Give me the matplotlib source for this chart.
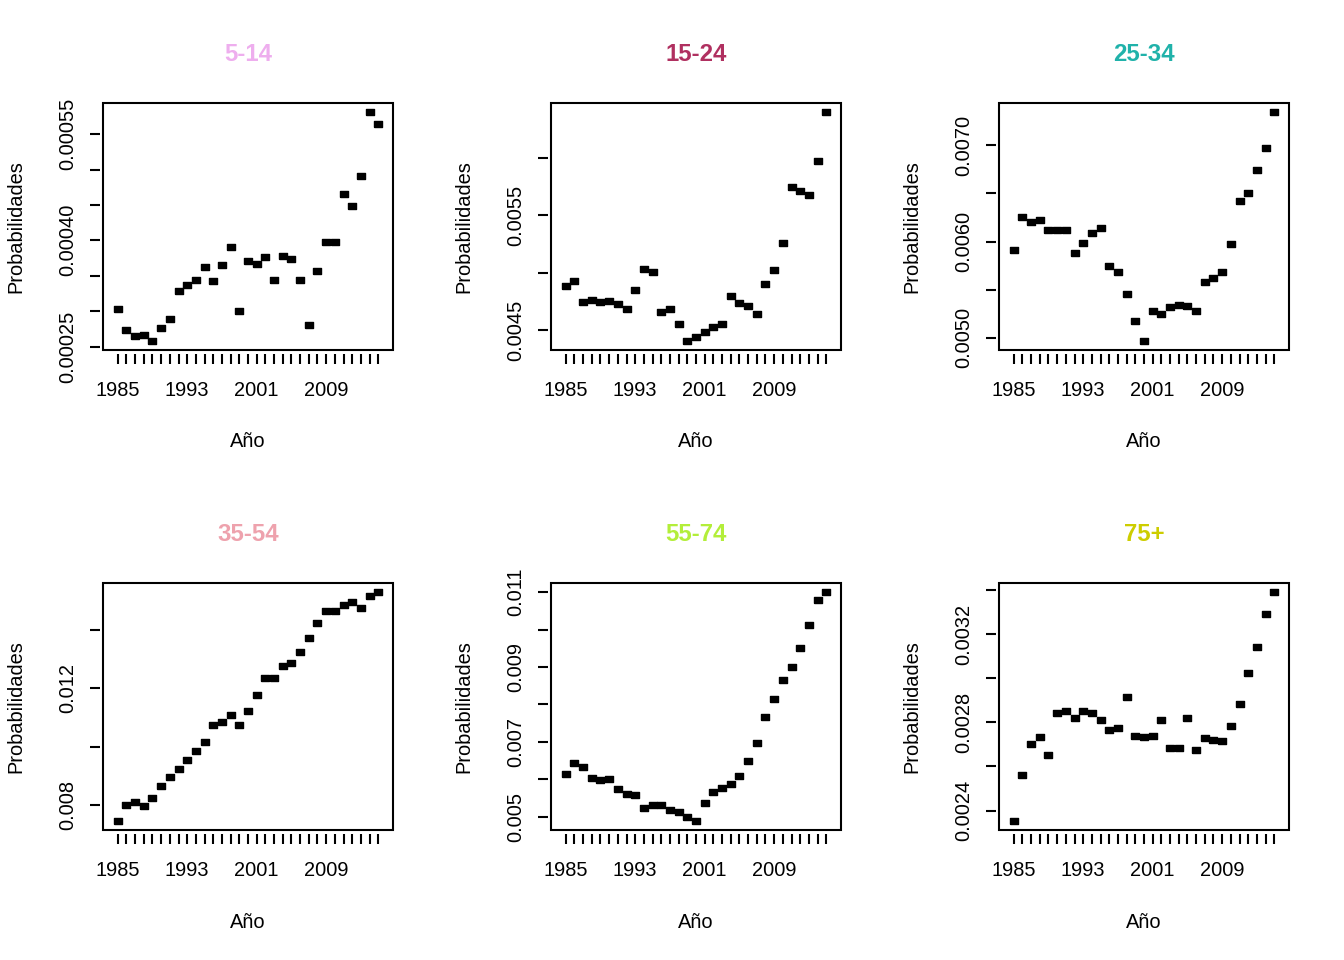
import numpy as np
import matplotlib.pyplot as plt
from matplotlib.patches import Rectangle

plt.rcParams['font.family'] = ['Liberation Sans', 'DejaVu Sans']

# --- datos ---
anios = list(range(1985, 2016))

grupos = ['5-14', '15-24', '25-34', '35-54', '55-74', '75+']
colores = ['#EEAEEE', '#B03060', '#20B2AA', '#EEA2AD', '#B3EE3A', '#CDCD00']

p_5_14 = [0.000303, 0.000273, 0.000265, 0.000266, 0.000258, 0.000276, 0.000289, 0.000329,
          0.000337, 0.000344, 0.000363, 0.000343, 0.000365, 0.000391, 0.000300, 0.000371,
          0.000367, 0.000376, 0.000344, 0.000378, 0.000374, 0.000344, 0.000280, 0.000356,
          0.000398, 0.000398, 0.000466, 0.000448, 0.000491, 0.000581, 0.000564]
p_15_24 = [0.004889, 0.004932, 0.004750, 0.004764, 0.004750, 0.004758, 0.004732, 0.004689,
           0.004854, 0.005037, 0.005011, 0.004663, 0.004689, 0.004558, 0.004410, 0.004445,
           0.004491, 0.004532, 0.004558, 0.004802, 0.004741, 0.004715, 0.004645, 0.004906,
           0.005028, 0.005263, 0.005742, 0.005710, 0.005672, 0.005968, 0.006395]
p_25_34 = [0.005917, 0.006260, 0.006208, 0.006229, 0.006115, 0.006115, 0.006125, 0.005885,
           0.005990, 0.006094, 0.006139, 0.005750, 0.005688, 0.005458, 0.005177, 0.004969,
           0.005281, 0.005250, 0.005323, 0.005344, 0.005333, 0.005281, 0.005583, 0.005625,
           0.005688, 0.005979, 0.006417, 0.006500, 0.006740, 0.006969, 0.007344]
p_35_54 = [0.007448, 0.008000, 0.008103, 0.007966, 0.008241, 0.008655, 0.008966, 0.009241,
           0.009552, 0.009862, 0.010172, 0.010759, 0.010862, 0.011103, 0.010759, 0.011241,
           0.011759, 0.012345, 0.012345, 0.012759, 0.012862, 0.013241, 0.013724, 0.014241,
           0.014655, 0.014655, 0.014862, 0.014966, 0.014759, 0.015172, 0.015310]
p_55_74 = [0.006152, 0.006446, 0.006339, 0.006045, 0.005991, 0.006018, 0.005750, 0.005616,
           0.005589, 0.005241, 0.005321, 0.005321, 0.005188, 0.005134, 0.005000, 0.004893,
           0.005375, 0.005670, 0.005777, 0.005884, 0.006098, 0.006500, 0.006982, 0.007679,
           0.008134, 0.008643, 0.008991, 0.009500, 0.010116, 0.010786, 0.011000]
p_75 = [0.002353, 0.002563, 0.002704, 0.002736, 0.002654, 0.002845, 0.002850, 0.002818,
        0.002854, 0.002845, 0.002809, 0.002768, 0.002777, 0.002914, 0.002740, 0.002736,
        0.002740, 0.002813, 0.002686, 0.002686, 0.002818, 0.002677, 0.002731, 0.002722,
        0.002718, 0.002786, 0.002886, 0.003023, 0.003142, 0.003292, 0.003392]

series = [p_5_14, p_15_24, p_25_34, p_35_54, p_55_74, p_75]

# ticks del eje y y cuales llevan etiqueta (R omite las que se solapan)
yticks = [
    [0.00025, 0.00030, 0.00035, 0.00040, 0.00045, 0.00050, 0.00055],
    [0.0045, 0.0050, 0.0055, 0.0060],
    [0.0050, 0.0055, 0.0060, 0.0065, 0.0070],
    [0.008, 0.010, 0.012, 0.014],
    [0.005, 0.006, 0.007, 0.008, 0.009, 0.010, 0.011],
    [0.0024, 0.0026, 0.0028, 0.0030, 0.0032, 0.0034],
]
ylabels = [
    ['0.00025', '', '', '0.00040', '', '', '0.00055'],
    ['0.0045', '', '0.0055', ''],
    ['0.0050', '', '0.0060', '', '0.0070'],
    ['0.008', '', '0.012', ''],
    ['0.005', '', '0.007', '', '0.009', '', '0.011'],
    ['0.0024', '', '0.0028', '', '0.0032', ''],
]
xlabels = [str(a) if a in (1985, 1993, 2001, 2009) else '' for a in anios]

# --- figura ---
fig = plt.figure(figsize=(13.44, 9.6), dpi=100)
W, H = 1344, 960
lefts = [103, 551, 999]
tops = [103, 583]
pw, ph = 290, 247

# rectangulo con aspecto R (pch 15 chico)
marca = [(-1.3, -1), (1.3, -1), (1.3, 1), (-1.3, 1), (-1.3, -1)]

for i, (grupo, color, vals) in enumerate(zip(grupos, colores, series)):
    fila, col = divmod(i, 3)
    ax = fig.add_axes([lefts[col] / W, 1 - (tops[fila] + ph) / H, pw / W, ph / H])
    ax.plot(anios, vals, linestyle='none', marker=marca, ms=5.5, color='black')

    ax.set_xlim(1985 - 1.7, 2015 + 1.7)
    ax.margins(y=0.04)
    ax.set_xticks(anios)
    ax.set_xticklabels(xlabels)
    ax.set_yticks(yticks[i])
    ax.set_yticklabels(ylabels[i])

    # caja aparte y ejes un poco separados, como en R
    for s in ax.spines.values():
        s.set_visible(False)
    ax.spines['bottom'].set_position(('outward', 3))
    ax.spines['left'].set_position(('outward', 2))
    ax.add_patch(Rectangle((0, 0), 1, 1, transform=ax.transAxes, fill=False,
                           lw=1.5, ec='black', clip_on=False))
    ax.tick_params(axis='both', direction='out', length=7.5, width=1.5,
                   labelsize=14.4, color='black')
    ax.tick_params(axis='x', pad=12)
    ax.tick_params(axis='y', pad=9, labelrotation=90)
    for lab in ax.get_yticklabels():
        lab.set_va('center')

    ax.set_title(grupo, color=color, fontsize=17.3, fontweight='bold', pad=30)
    ax.text(-87 / pw, 0.5, 'Probabilidades', transform=ax.transAxes, rotation=90,
            ha='center', va='center', fontsize=14.4)
    ax.text(0.5, -92 / ph, 'Año', transform=ax.transAxes,
            ha='center', va='center', fontsize=14.4)

fig.savefig('out.png', dpi=100)
